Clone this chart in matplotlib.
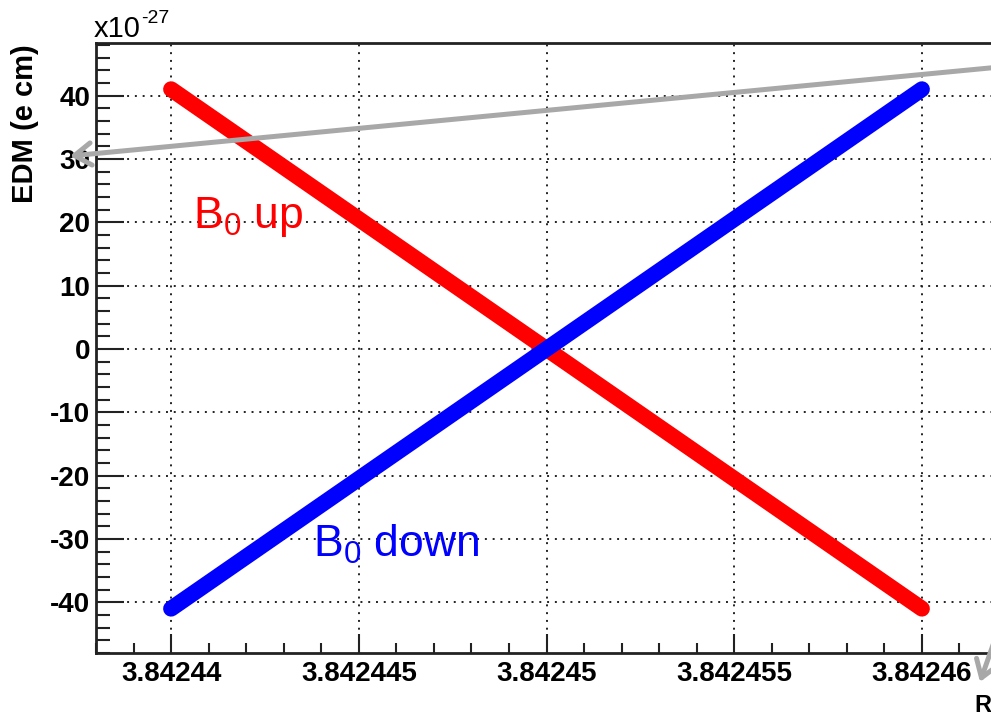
import matplotlib
matplotlib.use("Agg")
import matplotlib.pyplot as plt
from matplotlib.ticker import FixedLocator, MultipleLocator

plt.rcParams['font.family'] = ['Liberation Sans', 'DejaVu Sans']
plt.rcParams['axes.unicode_minus'] = False

# frequency scan endpoints and the EDM for each field direction
freq = [3.84244, 3.84246]
edm_up = [41, -41]
edm_down = [-41, 41]

xticks = [3.84244, 3.842445, 3.84245, 3.842455, 3.84246]
xticklabels = ["3.84244", "3.842445", "3.84245", "3.842455", "3.84246"]
yticks = [-40, -30, -20, -10, 0, 10, 20, 30, 40]

fig = plt.figure(figsize=(9.91, 7.16), dpi=100)
# frame runs past the right edge, as in the original slide crop
ax = fig.add_axes([96 / 991, 63 / 716, 901 / 991, 610 / 716])

ax.plot(freq, edm_up, color='#ff0000', lw=11.5, solid_capstyle='round', zorder=3)
ax.plot(freq, edm_down, color='#0000ff', lw=11.5, solid_capstyle='round', zorder=4)

ax.set_xlim(3.842438, 3.842462)
ax.set_ylim(-48, 48.3)

ax.xaxis.set_major_locator(FixedLocator(xticks))
ax.set_xticklabels(xticklabels)
ax.xaxis.set_minor_locator(MultipleLocator(1e-6))
ax.yaxis.set_major_locator(FixedLocator(yticks))
ax.set_yticklabels([str(v) for v in yticks])
ax.yaxis.set_minor_locator(MultipleLocator(2))

ax.tick_params(axis='both', which='both', direction='in', color='#222222',
               width=1.5, top=False, right=False)
ax.tick_params(axis='y', which='major', length=20, pad=4)
ax.tick_params(axis='y', which='minor', length=10)
ax.tick_params(axis='x', which='major', length=14, pad=6)
ax.tick_params(axis='x', which='minor', length=7)
for lab in ax.get_xticklabels() + ax.get_yticklabels():
    lab.set_fontsize(20)
    lab.set_fontweight('bold')

ax.grid(True, which='major', color='#222222', linestyle=(0, (1, 3)), lw=1.4)
for s in ax.spines.values():
    s.set_color('#222222')
    s.set_linewidth(2)

fig.text(25 / 991, 1 - 44 / 716, "EDM (e cm)", rotation=90, ha='center',
         va='top', fontsize=21, fontweight='bold')
fig.text(94 / 991, 1 - 37 / 716, "x10", fontsize=21, va='baseline')
fig.text(141 / 991, 1 - 23 / 716, "-27", fontsize=14, va='baseline')
fig.text(974 / 991, 1 - 712 / 716, "R", fontsize=17, fontweight='bold',
         va='baseline')

fig.text(193 / 991, 1 - 228 / 716, r"$\mathregular{B_0}$ up", color='#ff0000',
         fontsize=32, va='baseline')
fig.text(313 / 991, 1 - 557 / 716, r"$\mathregular{B_0}$ down", color='#0000ff',
         fontsize=32, va='baseline')

# grey callout arrows drawn on the figure
arrow_kw = dict(arrowstyle='->,head_length=0.6,head_width=0.4', color='#a8a8a8',
                lw=3.6, mutation_scale=20, shrinkA=0, shrinkB=0)
ax.annotate("", xy=(70, 716 - 156), xytext=(1000, 716 - 67),
            xycoords='figure pixels', textcoords='figure pixels',
            arrowprops=arrow_kw, annotation_clip=False)
ax.annotate("", xy=(980, 716 - 682), xytext=(1000, 716 - 625),
            xycoords='figure pixels', textcoords='figure pixels',
            arrowprops=arrow_kw, annotation_clip=False)

fig.savefig("out.png", dpi=100)
